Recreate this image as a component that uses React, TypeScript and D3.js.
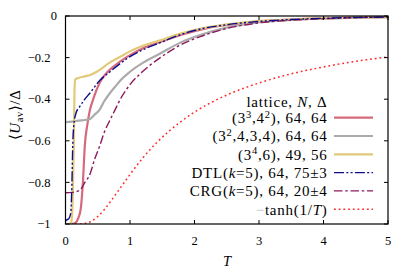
import React from "react";
import * as d3 from "d3";

// temperatures and <U_av>/Delta
const pinkT = [0.1, 0.15, 0.2, 0.235, 0.27, 0.3, 0.34, 0.38, 0.43, 0.48, 0.55, 0.62, 0.69, 0.78, 0.85, 1.0, 1.2, 1.47, 1.8, 2.2, 2.6, 3.0, 3.5, 4.0, 4.5, 5.0];
const pinkU = [-1.0, -0.995, -0.97, -0.93, -0.8, -0.62, -0.52, -0.45, -0.4, -0.356, -0.31, -0.28, -0.258, -0.235, -0.218, -0.188, -0.155, -0.125, -0.09, -0.058, -0.04, -0.026, -0.017, -0.011, -0.007, -0.005];

const grayT = [0, 0.1, 0.2, 0.3, 0.38, 0.45, 0.53, 0.6, 0.69, 0.77, 0.85, 1.0, 1.21, 1.47, 1.78, 2.1, 2.5, 3.0, 3.5, 4.0, 4.5, 5.0];
const grayU = [-0.51, -0.508, -0.503, -0.5, -0.495, -0.475, -0.45, -0.41, -0.37, -0.34, -0.31, -0.268, -0.223, -0.18, -0.128, -0.09, -0.056, -0.03, -0.019, -0.012, -0.008, -0.005];

const yellowT = [0.06, 0.09, 0.11, 0.13, 0.14, 0.15, 0.2, 0.3, 0.38, 0.5, 0.69, 0.85, 1.0, 1.2, 1.47, 1.78, 2.1, 2.5, 3.0, 3.5, 4.0, 4.5, 5.0];
const yellowU = [-1.0, -0.99, -0.9, -0.6, -0.35, -0.305, -0.298, -0.29, -0.284, -0.265, -0.223, -0.196, -0.17, -0.143, -0.117, -0.085, -0.06, -0.04, -0.024, -0.016, -0.011, -0.007, -0.005];

const dtlT = [0.0, 0.02, 0.05, 0.08, 0.1, 0.11, 0.13, 0.16, 0.22, 0.3, 0.38, 0.53, 0.69, 0.85, 1.0, 1.16, 1.47, 1.78, 2.1, 2.5, 3.0, 3.5, 4.0, 4.5, 5.0];
const dtlU = [-0.985, -0.98, -0.975, -0.95, -0.8, -0.65, -0.52, -0.47, -0.436, -0.4, -0.37, -0.31, -0.268, -0.228, -0.195, -0.168, -0.128, -0.09, -0.062, -0.042, -0.026, -0.017, -0.011, -0.007, -0.005];

const crgT = [0, 0.1, 0.22, 0.3, 0.38, 0.45, 0.53, 0.6, 0.69, 0.77, 0.85, 1.0, 1.21, 1.47, 1.78, 2.1, 2.5, 3.0, 3.5, 4.0, 4.5, 5.0];
const crgU = [-0.85, -0.848, -0.838, -0.8, -0.76, -0.69, -0.625, -0.56, -0.5, -0.45, -0.4, -0.33, -0.263, -0.2, -0.14, -0.098, -0.06, -0.033, -0.02, -0.013, -0.008, -0.005];

const tanhT = [0.15, 0.2, 0.3, 0.4, 0.5, 0.6, 0.7, 0.8, 0.9, 1.0, 1.2, 1.4, 1.6, 1.8, 2.0, 2.5, 3.0, 3.5, 4.0, 4.5, 5.0];
const tanhU = [-1.0, -1.0, -0.997, -0.987, -0.964, -0.931, -0.891, -0.848, -0.805, -0.762, -0.682, -0.613, -0.555, -0.505, -0.462, -0.38, -0.322, -0.278, -0.245, -0.218, -0.197];

const xTicks = [0, 1, 2, 3, 4, 5];
const yTicks = [0, -0.2, -0.4, -0.6, -0.8, -1];
const yTickLabels = ["0", "\u22120.2", "\u22120.4", "\u22120.6", "\u22120.8", "\u22121"];

const series = [
  { key: "pink", t: pinkT, u: pinkU, color: "#d5697d", width: 2.2, dash: null },
  { key: "gray", t: grayT, u: grayU, color: "#ababab", width: 2.2, dash: null },
  { key: "yellow", t: yellowT, u: yellowU, color: "#e1c978", width: 2.2, dash: null },
  { key: "tanh", t: tanhT, u: tanhU, color: "#ff2a2a", width: 1.5, dash: "1.8,2.9" },
  { key: "crg", t: crgT, u: crgU, color: "#8c1a5c", width: 1.4, dash: "8.5,2.7,2.6,2.7" },
  { key: "dtl", t: dtlT, u: dtlU, color: "#0c0c8c", width: 1.4, dash: "10,2.3,2,2.3,2,2.3" },
];

const font = "'Liberation Serif', serif";

const App = () => {
  const left = 65.5;
  const right = 388;
  const top = 16;
  const bottom = 224;

  const x = d3.scaleLinear().domain([0, 5]).range([left, right]);
  const y = d3.scaleLinear().domain([-1, 0]).range([bottom, top]);

  const line = (t, u) =>
    d3
      .line()
      .x((d) => x(d[0]))
      .y((d) => y(d[1]))
      .curve(d3.curveMonotoneX)(t.map((v, i) => [v, u[i]]));

  const byKey = Object.fromEntries(series.map((s) => [s.key, s]));
  const sup = (v) => (
    <tspan dy={-5.5} fontSize={10.5}>{v}</tspan>
  );
  const legendRows = [
    { key: "pink", label: (<>(3{sup("3")}<tspan dy={5.5}>,4</tspan>{sup("2")}<tspan dy={5.5}>), 64, 64</tspan></>) },
    { key: "gray", label: (<>(3{sup("2")}<tspan dy={5.5}>,4,3,4), 64, 64</tspan></>) },
    { key: "yellow", label: (<>(3{sup("4")}<tspan dy={5.5}>,6), 49, 56</tspan></>) },
    { key: "dtl", label: (<>DTL(<tspan fontStyle="italic">k</tspan>=5), 64, 75±3</>) },
    { key: "crg", label: (<>CRG(<tspan fontStyle="italic">k</tspan>=5), 64, 20±4</>) },
    { key: "tanh", label: (<><tspan fill="#c4c4c4">{"\u2212"}</tspan>tanh(1/<tspan fontStyle="italic">T</tspan>)</>) },
  ];

  return (
    <svg width={411} height={274} style={{ position: "absolute", left: 0, top: 0 }} fontFamily={font}>
      <rect width={411} height={274} fill="white" />
      <defs>
        <clipPath id="plot">
          <rect x={left} y={top} width={right - left} height={bottom - top} />
        </clipPath>
      </defs>

      <g clipPath="url(#plot)">
        {series.map((s) => (
          <path
            key={s.key}
            d={line(s.t, s.u)}
            fill="none"
            stroke={s.color}
            strokeWidth={s.width}
            strokeDasharray={s.dash || undefined}
          />
        ))}
      </g>

      {/* ticks, inward on all sides */}
      {xTicks.map((t) => (
        <g key={t}>
          <line x1={x(t)} x2={x(t)} y1={bottom} y2={bottom - 4} stroke="black" />
          <line x1={x(t)} x2={x(t)} y1={top} y2={top + 4} stroke="black" />
          <text x={x(t)} y={245} textAnchor="middle" fontSize={12.5}>{t}</text>
        </g>
      ))}
      {yTicks.map((t, i) => (
        <g key={t}>
          <line x1={left} x2={left + 4} y1={y(t)} y2={y(t)} stroke="black" />
          <line x1={right} x2={right - 4} y1={y(t)} y2={y(t)} stroke="black" />
          <text x={t === 0 ? 57 : 50.5} y={y(t) + 4.2} textAnchor="end" fontSize={12.5}>
            {yTickLabels[i]}
          </text>
        </g>
      ))}
      <rect x={left} y={top} width={right - left} height={bottom - top} fill="none" stroke="black" strokeWidth={1.2} />

      <text x={227} y={266} textAnchor="middle" fontSize={14.5} fontStyle="italic">T</text>
      <text transform="translate(20,115) rotate(-90)" textAnchor="middle" fontSize={15} letterSpacing={0.6}>
        {"\u27e8"}<tspan fontStyle="italic">U</tspan><tspan fontSize={10.5} dy={3}>av</tspan><tspan dy={-3}>{"\u27e9/\u0394"}</tspan>
      </text>

      {/* legend */}
      <g fontSize={15} letterSpacing={0.75}>
        <text x={327.5} y={106.5} textAnchor="end">
          lattice, <tspan fontStyle="italic">N</tspan>, {"\u0394"}
        </text>
        {legendRows.map((r, i) => {
          const s = byKey[r.key];
          const ly = 117.7 + i * 18.3;
          return (
            <g key={r.key}>
              <text x={327.5} y={ly + 5.3} textAnchor="end">{r.label}</text>
              <line
                x1={334}
                x2={373}
                y1={ly}
                y2={ly}
                stroke={s.color}
                strokeWidth={s.width}
                strokeDasharray={s.dash || undefined}
              />
            </g>
          );
        })}
      </g>
    </svg>
  );
};

export default App;
